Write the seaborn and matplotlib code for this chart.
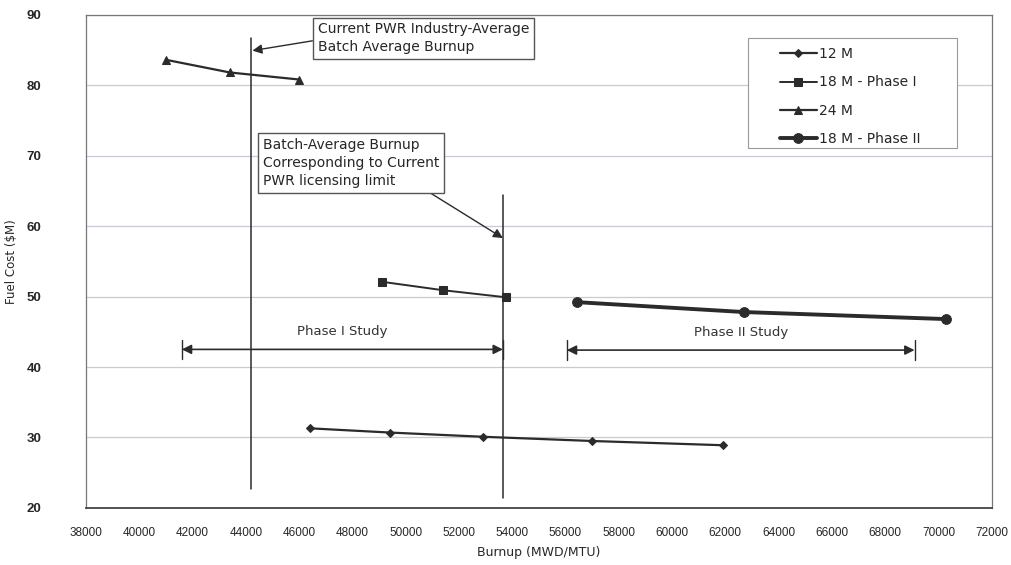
import numpy as np
import pandas as pd
import matplotlib
matplotlib.use("Agg")
import matplotlib.pyplot as plt
import matplotlib.patches as mpatches
import seaborn as sns

# -------------------- DATA --------------------
burnup_12m = [46400, 49400, 52900, 57000, 61900]
cost_12m = [31.3, 30.7, 30.1, 29.5, 28.9]

burnup_18m_p1 = [49100, 51400, 53750]
cost_18m_p1 = [52.1, 50.9, 49.9]

burnup_24m = [41000, 43400, 46000]
cost_24m = [83.6, 81.8, 80.8]

burnup_18m_p2 = [56450, 62700, 70300]
cost_18m_p2 = [49.2, 47.8, 46.8]

series_names = ["12 M", "18 M - Phase I", "24 M", "18 M - Phase II"]

x_ticks = np.arange(38000, 72001, 2000)
y_ticks = np.arange(20, 91, 10)

# reference burnup lines (industry average, licensing limit)
industry_avg = 44200
licensing_limit = 53650

# -------------------- STYLE --------------------
sns.set_theme(style="white")
plt.rcParams["font.family"] = ["Liberation Sans", "DejaVu Sans"]
wide = ["DejaVu Sans"]
dark = "#2b2b2b"
txt = "#262626"
grid_c = "#c9c9dc"

fig = plt.figure(figsize=(10.11, 5.65), dpi=100)
ax = fig.add_axes([0.085, 0.101, 0.896, 0.873])

frames = [
    (burnup_12m, cost_12m, "D", 4.5, 1.6),
    (burnup_18m_p1, cost_18m_p1, "s", 5.5, 1.4),
    (burnup_24m, cost_24m, "^", 6, 1.6),
    (burnup_18m_p2, cost_18m_p2, "o", 7, 2.8),
]
for name, (xs, ys, mk, ms, lw) in zip(series_names, frames):
    df = pd.DataFrame({"burnup": xs, "cost": ys})
    sns.lineplot(data=df, x="burnup", y="cost", ax=ax, color=dark, marker=mk,
                 markersize=ms, linewidth=lw, markeredgecolor=dark,
                 markerfacecolor=dark, label=name)

ax.set_xlim(38000, 72000)
ax.set_ylim(20, 90)
ax.set_xticks(x_ticks)
ax.set_yticks(y_ticks)
ax.set_xticklabels([str(v) for v in x_ticks], fontsize=8.5, color=txt)
ax.set_yticklabels([str(v) for v in y_ticks], fontsize=9.5, color=txt,
                   fontweight="bold")
ax.tick_params(axis="y", pad=32, length=3, direction="in")
ax.tick_params(axis="x", pad=14, length=3, direction="in")
ax.yaxis.grid(True, color=grid_c, linewidth=0.9)
for s in ax.spines.values():
    s.set_color("#777777")
    s.set_linewidth(0.9)
ax.spines["bottom"].set_color("#444444")
ax.spines["bottom"].set_linewidth(1.3)

ax.set_xlabel("Burnup (MWD/MTU)", fontsize=9, labelpad=5, color=txt, family=wide)
ax.set_ylabel("Fuel Cost ($M)", fontsize=8.5, color=txt, family=wide)
ax.yaxis.set_label_coords(-0.0755, 0.5)

# -------------------- REFERENCE LINES --------------------
ax.plot([industry_avg, industry_avg], [22.7, 86.7], color=dark, lw=1.1)
ax.plot([licensing_limit, licensing_limit], [21.4, 64.4], color=dark, lw=1.1)

box = dict(boxstyle="square,pad=0.35", fc="white", ec="#555555", lw=1)
ax.annotate("Current PWR Industry-Average\nBatch Average Burnup",
            xy=(industry_avg + 50, 84.9), xytext=(46700, 88.9),
            fontsize=10, va="top", ha="left", bbox=box, linespacing=1.35,
            family=wide, color=txt,
            arrowprops=dict(arrowstyle="-|>", color=dark, lw=1, mutation_scale=14,
                            shrinkA=0, shrinkB=0, relpos=(0, 0.45)))
ax.annotate("Batch-Average Burnup\nCorresponding to Current\nPWR licensing limit",
            xy=(licensing_limit, 58.3), xytext=(44650, 72.5),
            fontsize=10, va="top", ha="left", bbox=box, linespacing=1.35,
            family=wide, color=txt,
            arrowprops=dict(arrowstyle="-|>", color=dark, lw=1, mutation_scale=14,
                            shrinkA=0, shrinkB=0, relpos=(0.9, 0)))

# -------------------- STUDY RANGES --------------------
def study_range(x0, x1, y, text):
    ax.annotate("", xy=(x1, y), xytext=(x0, y),
                arrowprops=dict(arrowstyle="<|-|>", color=dark, lw=1.2,
                                mutation_scale=14, shrinkA=0, shrinkB=0))
    ax.plot([x0, x0], [y - 1.4, y + 1.4], color=dark, lw=1)
    ax.plot([x1, x1], [y - 1.4, y + 1.4], color=dark, lw=1)
    ax.text((x0 + x1) / 2, y + 2.5, text, ha="center", va="center", fontsize=9.5,
            color="#333333", family=wide)

study_range(41600, licensing_limit, 42.5, "Phase I Study")
study_range(56050, 69100, 42.4, "Phase II Study")

# -------------------- LEGEND --------------------
# frame drawn separately so it can be wider than the entries
ax.add_patch(mpatches.Rectangle((0.7307, 0.7302), 0.2307, 0.2231,
                                transform=ax.transAxes, fc="white",
                                ec="#999999", lw=0.8, zorder=4))
leg = ax.legend(loc="upper left", bbox_to_anchor=(0.766, 0.934), frameon=False,
                prop={"family": wide, "size": 10},
                handlelength=2.65, labelspacing=1.02, borderpad=0,
                handletextpad=0.2, borderaxespad=0)
leg.set_zorder(5)
for t in leg.get_texts():
    t.set_color(txt)

fig.savefig("out.png", dpi=100)
